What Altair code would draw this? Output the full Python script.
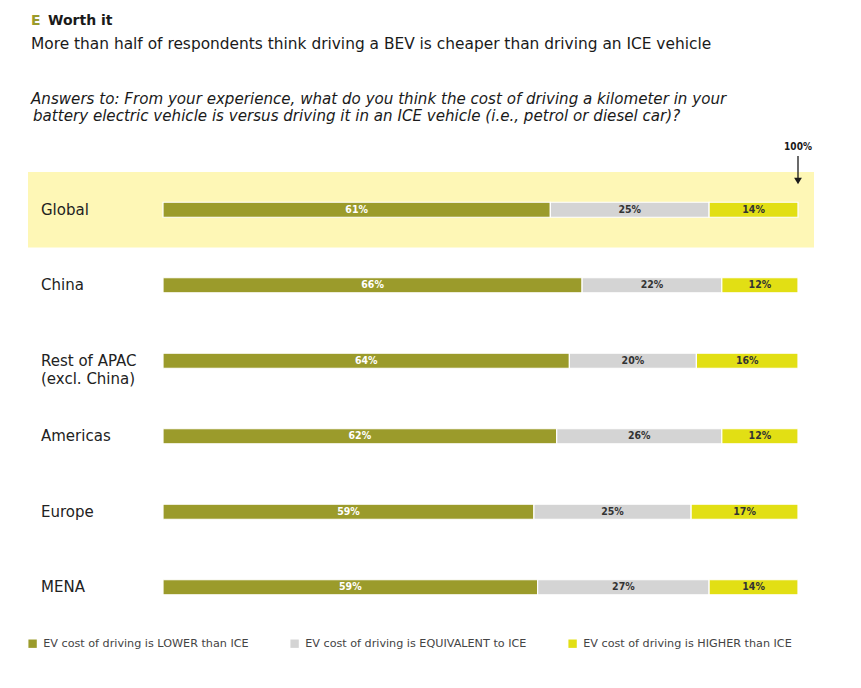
import altair as alt
import pandas as pd

regions = ["Global", "China", "Rest of APAC\n(excl. China)", "Americas", "Europe", "MENA"]
lower = [61, 66, 64, 62, 59, 59]
equiv = [25, 22, 20, 26, 25, 27]
higher = [14, 12, 16, 12, 17, 14]
categories = ["EV cost of driving is LOWER than ICE",
              "EV cost of driving is EQUIVALENT to ICE",
              "EV cost of driving is HIGHER than ICE"]
colors = ["#9B9B2B", "#D4D4D4", "#E2DF14"]
label_colors = ["white", "#333333", "#333333"]
highlight = ["Global"]

rows = []
for i, r in enumerate(regions):
    vals = [lower[i], equiv[i], higher[i]]
    tot = sum(vals)
    start = 0.0
    for k, v in enumerate(vals):
        end = start + v / tot
        rows.append({"region": r, "cat": categories[k], "k": k, "value": v,
                     "label": f"{v}%", "start": start, "end": end,
                     "mid": (start + end) / 2, "lc": label_colors[k]})
        start = end
df = pd.DataFrame(rows)

FONT = "DejaVu Sans"
W, H = 635, 453

yenc = alt.Y("region:N", sort=regions, axis=None,
             scale=alt.Scale(paddingInner=0, paddingOuter=0))
xscale = alt.Scale(domain=[0, 1], nice=False, zero=False)

hl = alt.Chart(pd.DataFrame({"region": highlight})).mark_rect(
    color="#FEF7B6").encode(
    y=yenc, x=alt.value(-135), x2=alt.value(651))

bars = alt.Chart(df).mark_bar(size=15, stroke="white", strokeWidth=1.2).encode(
    y=yenc,
    x=alt.X("start:Q", scale=xscale, axis=None),
    x2="end:Q",
    color=alt.Color("cat:N", sort=categories,
                    scale=alt.Scale(domain=categories, range=colors),
                    legend=alt.Legend(title=None, orient="none", direction="horizontal",
                                      legendX=-136, legendY=466, symbolType="square",
                                      symbolSize=70, symbolStrokeWidth=0,
                                      labelFont=FONT, labelFontSize=11.2, labelColor="#444444",
                                      columnPadding=40, labelOffset=5, labelLimit=400)),
)

seglabels = alt.Chart(df).mark_text(font="DejaVu Sans Condensed", fontSize=10.5, fontWeight="bold",
                                    baseline="middle", align="center").encode(
    y=yenc,
    x=alt.X("mid:Q", scale=xscale),
    text="label:N",
    color=alt.Color("lc:N", scale=None),
)

rowlabels = alt.Chart(pd.DataFrame({"region": regions})).mark_text(
    font=FONT, fontSize=15, align="left", baseline="middle", color="#222222",
    lineBreak="\n", lineHeight=18).encode(
    y=yenc, x=alt.value(-122), text="region:N")

def txt(s, x, y, **kw):
    return alt.Chart(pd.DataFrame({"t": [s]})).mark_text(
        font=FONT, align="left", baseline="middle", **kw).encode(
        x=alt.value(x), y=alt.value(y), text="t:N")

title_e = txt("E", -132, -151, fontSize=14, fontWeight="bold", color="#9B9B2B")
title_w = txt("Worth it", -115, -151, fontSize=14, fontWeight="bold", color="#1a1a1a")
subtitle = txt("More than half of respondents think driving a BEV is cheaper than driving an ICE vehicle",
               -132, -128, fontSize=15.4, color="#1a1a1a")
q1 = txt("Answers to: From your experience, what do you think the cost of driving a kilometer in your",
         -132, -73, fontSize=15.1, fontStyle="italic", color="#1a1a1a")
q2 = txt("battery electric vehicle is versus driving it in an ICE vehicle (i.e., petrol or diesel car)?",
         -130, -56, fontSize=15.1, fontStyle="italic", color="#1a1a1a")
hundred = alt.Chart(pd.DataFrame({"t": ["100%"]})).mark_text(
    font="DejaVu Sans Condensed", fontSize=10, fontWeight="bold", align="center", baseline="middle",
    color="#1a1a1a").encode(x=alt.value(W), y=alt.value(-25), text="t:N")
arrow_line = alt.Chart(pd.DataFrame({"a": [0]})).mark_rule(
    color="#1a1a1a", strokeWidth=1.3).encode(
    x=alt.value(W), y=alt.value(-16), y2=alt.value(8))
arrow_head = alt.Chart(pd.DataFrame({"a": [0]})).mark_point(
    shape="triangle-down", filled=True, color="#1a1a1a", size=60, opacity=1).encode(
    x=alt.value(W), y=alt.value(9))

chart = alt.layer(hl, bars, seglabels, rowlabels, title_e, title_w, subtitle, q1, q2,
                  hundred, arrow_line, arrow_head).properties(
    width=W, height=H,
    background="white",
    autosize=alt.AutoSizeParams(type="none"),
    padding={"left": 155, "top": 164, "right": 50, "bottom": 50},
).configure_view(strokeWidth=0, stroke="transparent")

chart.save("out.html", embed_options={"renderer": "svg", "actions": False})
